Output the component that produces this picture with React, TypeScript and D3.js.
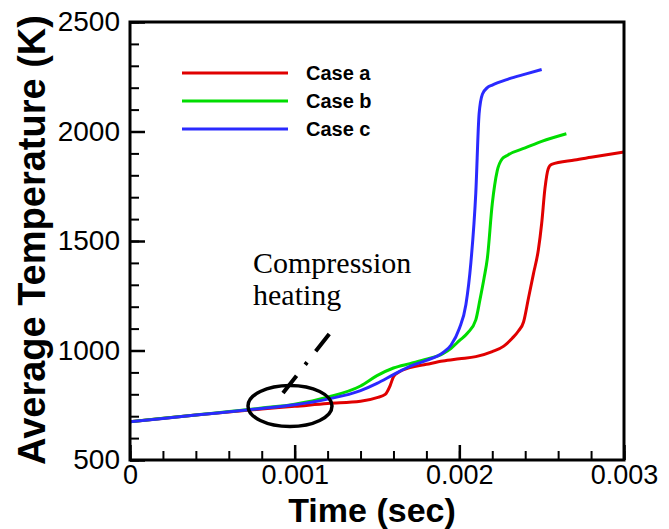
import React, { useEffect, useRef } from 'react';
import * as d3 from 'd3';

// time (s) and average temperature (K)
const caseATime = [0, 0.0004, 0.0008, 0.001, 0.0012, 0.0014, 0.0015, 0.00155, 0.00158, 0.0016, 0.00163, 0.0017, 0.0018, 0.0019, 0.002, 0.0021, 0.0022, 0.00227, 0.00232, 0.00236, 0.00239, 0.00242, 0.00245, 0.00248, 0.0025, 0.00252, 0.00254, 0.00256, 0.0027, 0.0028, 0.003];
const caseATemp = [675, 705, 733, 745, 758, 768, 785, 800, 840, 880, 900, 922, 937, 952, 962, 972, 995, 1020, 1055, 1090, 1130, 1240, 1350, 1460, 1580, 1740, 1830, 1850, 1870, 1882, 1906];

const caseBTime = [0, 0.0004, 0.0008, 0.001, 0.0012, 0.0014, 0.0015, 0.0016, 0.0017, 0.0018, 0.0019, 0.00195, 0.002, 0.00205, 0.0021, 0.002125, 0.00215, 0.00217, 0.0022, 0.00223, 0.00226, 0.00229, 0.0023, 0.0024, 0.0025, 0.00265];
const caseBTemp = [675, 706, 737, 755, 787, 838, 885, 920, 940, 960, 985, 1010, 1045, 1080, 1140, 1231, 1330, 1420, 1670, 1820, 1875, 1890, 1895, 1925, 1955, 1990];

const caseCTime = [0, 0.0004, 0.0008, 0.001, 0.0012, 0.0014, 0.0015, 0.0016, 0.0017, 0.0018, 0.0019, 0.00195, 0.002, 0.00204, 0.00207, 0.0021, 0.00212, 0.00214, 0.00217, 0.0022, 0.0023, 0.0024, 0.0025];
const caseCTemp = [675, 705, 735, 752, 778, 817, 850, 890, 928, 955, 990, 1025, 1100, 1210, 1400, 1720, 2080, 2170, 2200, 2212, 2240, 2262, 2283];

const seriesNames = ['Case a', 'Case b', 'Case c'];
const seriesColors = ['#e00000', '#00dd00', '#2a2aff'];
const xTicks = [0, 0.001, 0.002, 0.003];
const yTicks = [500, 1000, 1500, 2000, 2500];

const App = () => {
  const svgRef = useRef<SVGSVGElement>(null);

  useEffect(() => {
    const margin = { top: 22, right: 45, bottom: 69, left: 130 };
    const W = 669, H = 529;
    const width = W - margin.left - margin.right;
    const height = H - margin.top - margin.bottom;

    const root = d3.select(svgRef.current);
    root.selectAll('*').remove();
    root.attr('width', W).attr('height', H);

    const svg = root.append('g').attr('transform', `translate(${margin.left}, ${margin.top})`);

    const x = d3.scaleLinear().domain([0, 0.003]).range([0, width]);
    const y = d3.scaleLinear().domain([500, 2500]).range([height, 0]);

    const font = "'Liberation Sans', Arial, Helvetica, sans-serif";

    // minor ticks
    svg.append('g')
      .attr('transform', `translate(0, ${height})`)
      .call(d3.axisBottom(x).tickValues(d3.range(0, 0.00301, 0.0002)).tickSize(-9).tickFormat(() => ''))
      .call(g => g.select('.domain').remove())
      .selectAll('line').attr('stroke', '#000').attr('stroke-width', 2);
    svg.append('g')
      .call(d3.axisLeft(y).tickValues(d3.range(500, 2501, 100)).tickSize(-9).tickFormat(() => ''))
      .call(g => g.select('.domain').remove())
      .selectAll('line').attr('stroke', '#000').attr('stroke-width', 2);

    // major ticks with labels
    const xAxis = svg.append('g')
      .attr('transform', `translate(0, ${height})`)
      .call(d3.axisBottom(x).tickValues(xTicks).tickSize(-15).tickPadding(5)
        .tickFormat(d => (+d === 0 ? '0' : d3.format('.3f')(+d))));
    xAxis.select('.domain').remove();
    xAxis.selectAll('line').attr('stroke', '#000').attr('stroke-width', 2.5);
    xAxis.selectAll('text').attr('font-size', 27).attr('font-family', font).attr('fill', '#000');

    const yAxis = svg.append('g')
      .call(d3.axisLeft(y).tickValues(yTicks).tickSize(-15).tickPadding(10).tickFormat(d3.format('d')));
    yAxis.select('.domain').remove();
    yAxis.selectAll('line').attr('stroke', '#000').attr('stroke-width', 2.5);
    yAxis.selectAll('text').attr('font-size', 28).attr('font-family', font).attr('fill', '#000');

    // curves
    const series = [
      { t: caseATime, v: caseATemp },
      { t: caseBTime, v: caseBTemp },
      { t: caseCTime, v: caseCTemp },
    ];
    const line = d3.line<[number, number]>()
      .x(d => x(d[0]))
      .y(d => y(d[1]))
      .curve(d3.curveMonotoneX);

    series.forEach((s, i) => {
      svg.append('path')
        .datum(s.t.map((t, j) => [t, s.v[j]] as [number, number]))
        .attr('fill', 'none')
        .attr('stroke', seriesColors[i])
        .attr('stroke-width', 3)
        .attr('d', line);
    });

    // frame
    svg.append('rect')
      .attr('width', width).attr('height', height)
      .attr('fill', 'none').attr('stroke', '#000').attr('stroke-width', 3);

    // legend
    const legend = svg.append('g').attr('transform', 'translate(52, 51)');
    seriesNames.forEach((name, i) => {
      const row = legend.append('g').attr('transform', `translate(0, ${i * 28})`);
      row.append('line')
        .attr('x1', 0).attr('x2', 106)
        .attr('stroke', seriesColors[i]).attr('stroke-width', 3);
      row.append('text')
        .attr('x', 124).attr('y', 7)
        .attr('font-size', 20).attr('font-weight', 'bold')
        .attr('font-family', font)
        .text(name);
    });

    // annotation
    const serif = "'Liberation Serif', 'Times New Roman', serif";
    const note = root.append('g');
    note.append('text').attr('x', 253).attr('y', 273)
      .attr('font-size', 30).attr('font-family', serif).text('Compression');
    note.append('text').attr('x', 253).attr('y', 305)
      .attr('font-size', 30).attr('font-family', serif).text('heating');
    note.append('ellipse')
      .attr('cx', 290).attr('cy', 406).attr('rx', 42).attr('ry', 20.5)
      .attr('fill', 'none').attr('stroke', '#000').attr('stroke-width', 3.5);
    note.append('line')
      .attr('x1', 283).attr('y1', 393).attr('x2', 330).attr('y2', 333)
      .attr('stroke', '#000').attr('stroke-width', 4)
      .attr('stroke-dasharray', '22 14 3 14');

    // axis titles
    root.append('text')
      .attr('x', margin.left + width / 2 - 5).attr('y', 521.5)
      .attr('text-anchor', 'middle')
      .attr('font-size', 34).attr('font-weight', 'bold').attr('font-family', font)
      .text('Time (sec)');
    root.append('text')
      .attr('transform', 'translate(45, 240) rotate(-90)')
      .attr('text-anchor', 'middle')
      .attr('font-size', 38).attr('font-weight', 'bold').attr('font-family', font)
      .text('Average Temperature (K)');
  }, []);

  return (
    <div style={{ position: 'absolute', left: 0, top: 0, background: '#fff' }}>
      <svg ref={svgRef} style={{ display: 'block' }}></svg>
    </div>
  );
};

export default App;
